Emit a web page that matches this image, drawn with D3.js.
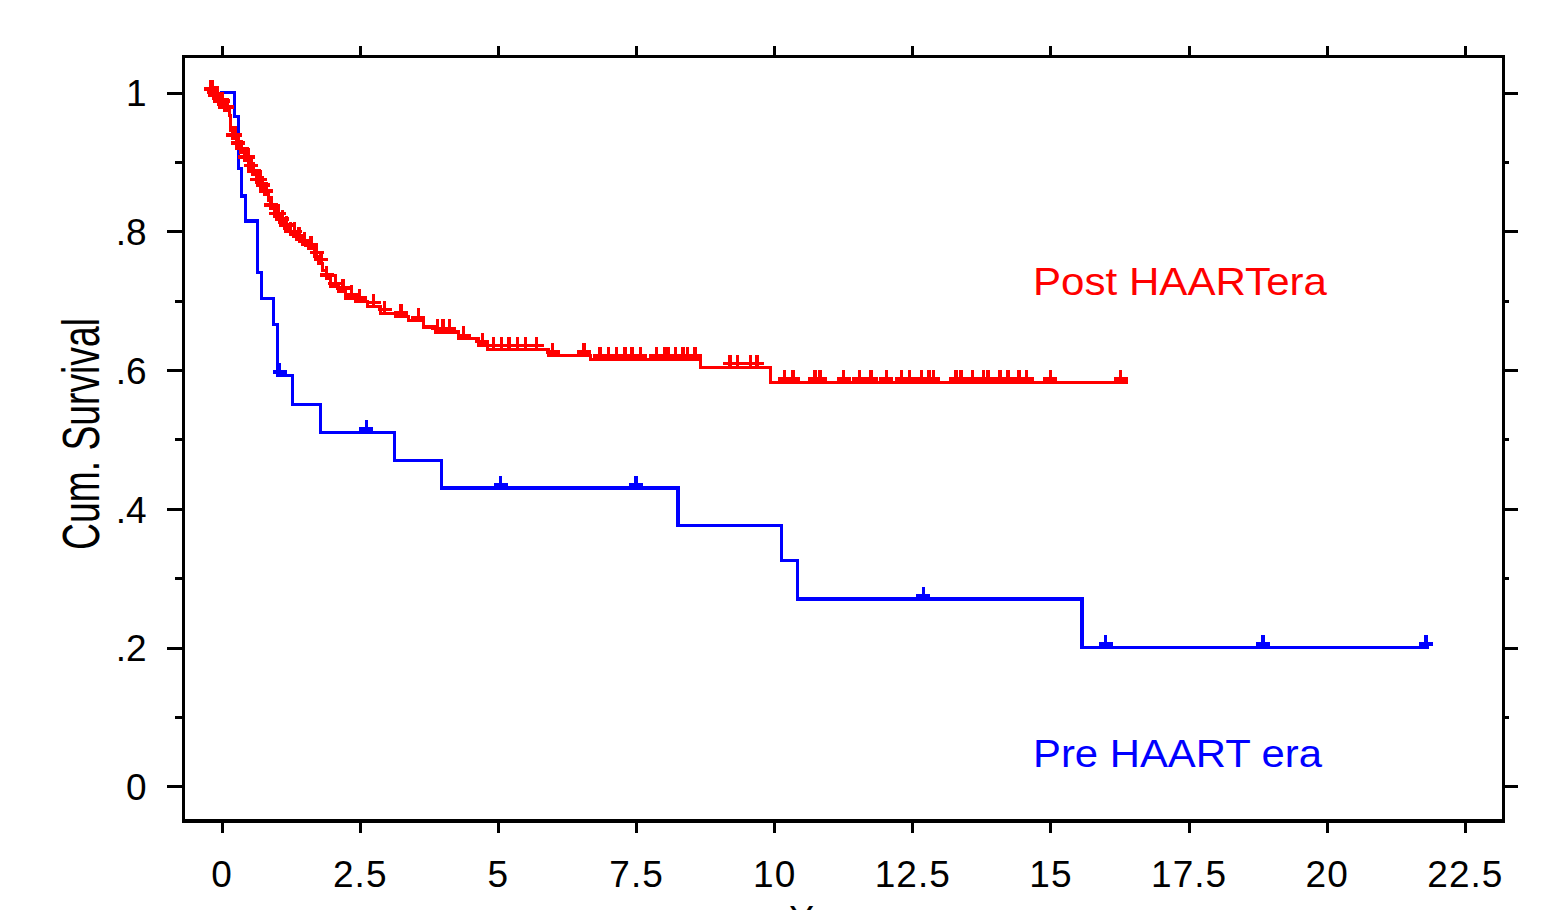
<!DOCTYPE html>
<html>
<head>
<meta charset="utf-8">
<script src="https://cdn.jsdelivr.net/npm/d3@7"></script>
<style>
  html, body { margin: 0; padding: 0; background: #fff; }
  svg { display: block; }
  text { font-family: "Liberation Sans", Arial, sans-serif; }
</style>
</head>
<body>
<svg id="chart" width="1546" height="910"></svg>
<script>
// ---------- data ----------
const xTicks = [0, 2.5, 5, 7.5, 10, 12.5, 15, 17.5, 20, 22.5];
const xTickLabels = ["0", "2.5", "5", "7.5", "10", "12.5", "15", "17.5", "20", "22.5"];
const yTicks = [0, 0.2, 0.4, 0.6, 0.8, 1];
const yTickLabels = ["0", ".2", ".4", ".6", ".8", "1"];
const yMinorTicks = [0.1, 0.3, 0.5, 0.7, 0.9];

// Post HAART era (step times and survival after each step; last = end of follow-up)
const redTime = [-0.235, -0.145, -0.054, 0.054, 0.145, 0.163, 0.199, 0.271, 0.344, 0.416,
  0.488, 0.561, 0.633, 0.705, 0.778, 0.850, 0.886, 0.958, 1.049, 1.139,
  1.248, 1.356, 1.465, 1.573, 1.682, 1.754, 1.826, 1.899, 1.971, 2.116,
  2.242, 2.423, 2.640, 2.875, 3.146, 3.382, 3.653, 3.870, 4.286, 4.647,
  4.810, 5.913, 6.673, 8.662, 9.928, 16.38];
const redSurv = [1.000, 0.991, 0.983, 0.974, 0.967, 0.945, 0.934, 0.922, 0.914, 0.902,
  0.890, 0.882, 0.870, 0.862, 0.853, 0.844, 0.833, 0.821, 0.813, 0.804,
  0.795, 0.788, 0.781, 0.775, 0.764, 0.754, 0.744, 0.732, 0.720, 0.713,
  0.704, 0.699, 0.692, 0.682, 0.677, 0.671, 0.662, 0.655, 0.645, 0.636,
  0.630, 0.621, 0.615, 0.604, 0.582, 0.582];
const redCensor = [-0.2, -0.17, -0.12, -0.08, -0.03, 0.02, 0.06, 0.1, 0.2, 0.24, 0.3, 0.36,
  0.42, 0.48, 0.53, 0.58, 0.64, 0.7, 0.74, 0.8, 0.9, 0.98, 1.03, 1.1, 1.17, 1.25, 1.32,
  1.4, 1.5, 1.62, 1.72, 1.8, 1.9, 2.06, 2.2, 2.35, 2.5, 2.75, 2.95, 3.25, 3.56, 3.91,
  4.01, 4.12, 4.38, 4.72, 4.92, 5.06, 5.2, 5.35, 5.5, 5.7, 5.99, 6.56, 6.85, 7.0, 7.15,
  7.3, 7.43, 7.58, 7.87, 8.01, 8.08, 8.21, 8.35, 8.43, 8.57, 9.2, 9.34, 9.57, 9.69,
  10.19, 10.34, 10.74, 10.83, 11.26, 11.54, 11.75, 12.03, 12.31, 12.45, 12.67, 12.8,
  12.88, 13.29, 13.38, 13.59, 13.79, 13.87, 14.09, 14.23, 14.43, 14.57, 15.0, 16.27];

// Pre HAART era
const blueTime = [0, 0.23, 0.30, 0.36, 0.43, 0.65, 0.72, 0.94, 1.01, 1.28, 1.79, 3.13,
  3.98, 8.26, 10.13, 10.42, 15.57, 21.83];
const blueSurv = [1.0, 0.966, 0.891, 0.851, 0.815, 0.741, 0.703, 0.666, 0.592, 0.550,
  0.510, 0.470, 0.430, 0.376, 0.326, 0.270, 0.200, 0.200];
const blueCensor = [1.05, 2.62, 5.05, 7.5, 12.7, 16.0, 18.85, 21.8];

const seriesNames = ["Post HAARTera", "Pre HAART era"];
const seriesColors = ["#ff0000", "#0000ff"];

// ---------- layout ----------
const svg = d3.select("#chart");
const L = 183.5, R = 1503.5, T = 56.5, B = 821;
const x = d3.scaleLinear().domain([-0.69, 23.2]).range([L, R]);
const y = d3.scaleLinear().domain([-0.05, 1.052]).range([B, T]);
const FS = 37;

function styleAxis(g) {
  g.select(".domain").remove();
  g.selectAll(".tick line").attr("stroke", "#000").attr("stroke-width", 3)
    .attr("shape-rendering", "crispEdges");
  g.selectAll("text").attr("font-size", FS).attr("fill", "#000")
    .attr("font-family", "'Liberation Sans', Arial, sans-serif");
}

// bottom axis
svg.append("g").attr("transform", `translate(0,${B})`)
  .call(d3.axisBottom(x).tickValues(xTicks).tickSize(12).tickPadding(28)
    .tickFormat((d, i) => xTickLabels[i]))
  .call(styleAxis)
  .call(g => g.selectAll("text").attr("letter-spacing", 1));

// top axis
svg.append("g").attr("transform", `translate(0,${T})`)
  .call(d3.axisTop(x).tickValues(xTicks).tickSize(11).tickFormat(""))
  .call(styleAxis);

// left axis major + minor
svg.append("g").attr("transform", `translate(${L},0)`)
  .call(d3.axisLeft(y).tickValues(yTicks).tickSize(17).tickPadding(20)
    .tickFormat((d, i) => yTickLabels[i]))
  .call(styleAxis)
  .call(g => g.selectAll("text").attr("dy", "0.36em"));
svg.append("g").attr("transform", `translate(${L},0)`)
  .call(d3.axisLeft(y).tickValues(yMinorTicks).tickSize(9).tickFormat(""))
  .call(styleAxis);

// right axis major + minor
svg.append("g").attr("transform", `translate(${R},0)`)
  .call(d3.axisRight(y).tickValues(yTicks).tickSize(14).tickFormat(""))
  .call(styleAxis);
svg.append("g").attr("transform", `translate(${R},0)`)
  .call(d3.axisRight(y).tickValues(yMinorTicks).tickSize(5).tickFormat(""))
  .call(styleAxis);

// frame
svg.append("rect").attr("x", L).attr("y", T).attr("width", R - L).attr("height", B - T)
  .attr("fill", "none").attr("stroke", "#000").attr("stroke-width", 3.5)
  .attr("shape-rendering", "crispEdges");

// ---------- curves ----------
const stepLine = d3.line().x(d => x(d[0])).y(d => y(d[1])).curve(d3.curveStepAfter);

function survAt(times, surv, t) {
  const i = d3.bisectRight(times, t) - 1;
  return surv[Math.max(0, Math.min(i, surv.length - 1))];
}

function drawSeries(times, surv, censor, color) {
  svg.append("path")
    .datum(times.map((t, i) => [t, surv[i]]))
    .attr("d", stepLine)
    .attr("fill", "none").attr("stroke", color).attr("stroke-width", 3.2)
    .attr("shape-rendering", "crispEdges")
    .attr("stroke-linejoin", "miter").attr("stroke-linecap", "square");
  svg.append("g").selectAll("path")
    .data(censor)
    .join("path")
    .attr("d", t => {
      const cx = x(t), cy = y(survAt(times, surv, t));
      return `M${cx - 7},${cy - 3.5}H${cx + 7}M${cx},${cy - 12.5}V${cy}`;
    })
    .attr("shape-rendering", "crispEdges")
    .attr("fill", "none").attr("stroke", color).attr("stroke-width", 3.4);
}

drawSeries(blueTime, blueSurv, blueCensor, seriesColors[1]);
drawSeries(redTime, redSurv, redCensor, seriesColors[0]);

// ---------- labels ----------
svg.append("text").attr("x", 1033).attr("y", 295)
  .attr("font-size", 39).attr("fill", seriesColors[0])
  .attr("textLength", 294).attr("lengthAdjust", "spacingAndGlyphs")
  .text(seriesNames[0]);
svg.append("text").attr("x", 1033).attr("y", 767)
  .attr("font-size", 38).attr("fill", seriesColors[1])
  .attr("textLength", 289).attr("lengthAdjust", "spacingAndGlyphs")
  .text(seriesNames[1]);

// y axis title
svg.append("text")
  .attr("transform", "translate(99,434) rotate(-90)")
  .attr("text-anchor", "middle")
  .attr("font-size", 51).attr("fill", "#000")
  .attr("textLength", 232).attr("lengthAdjust", "spacingAndGlyphs")
  .text("Cum. Survival");

// x axis title (cut off at bottom edge, as in the original)
svg.append("text")
  .attr("x", 836).attr("y", 932)
  .attr("text-anchor", "middle")
  .attr("font-size", FS).attr("fill", "#000")
  .text("Years");
</script>
</body>
</html>
